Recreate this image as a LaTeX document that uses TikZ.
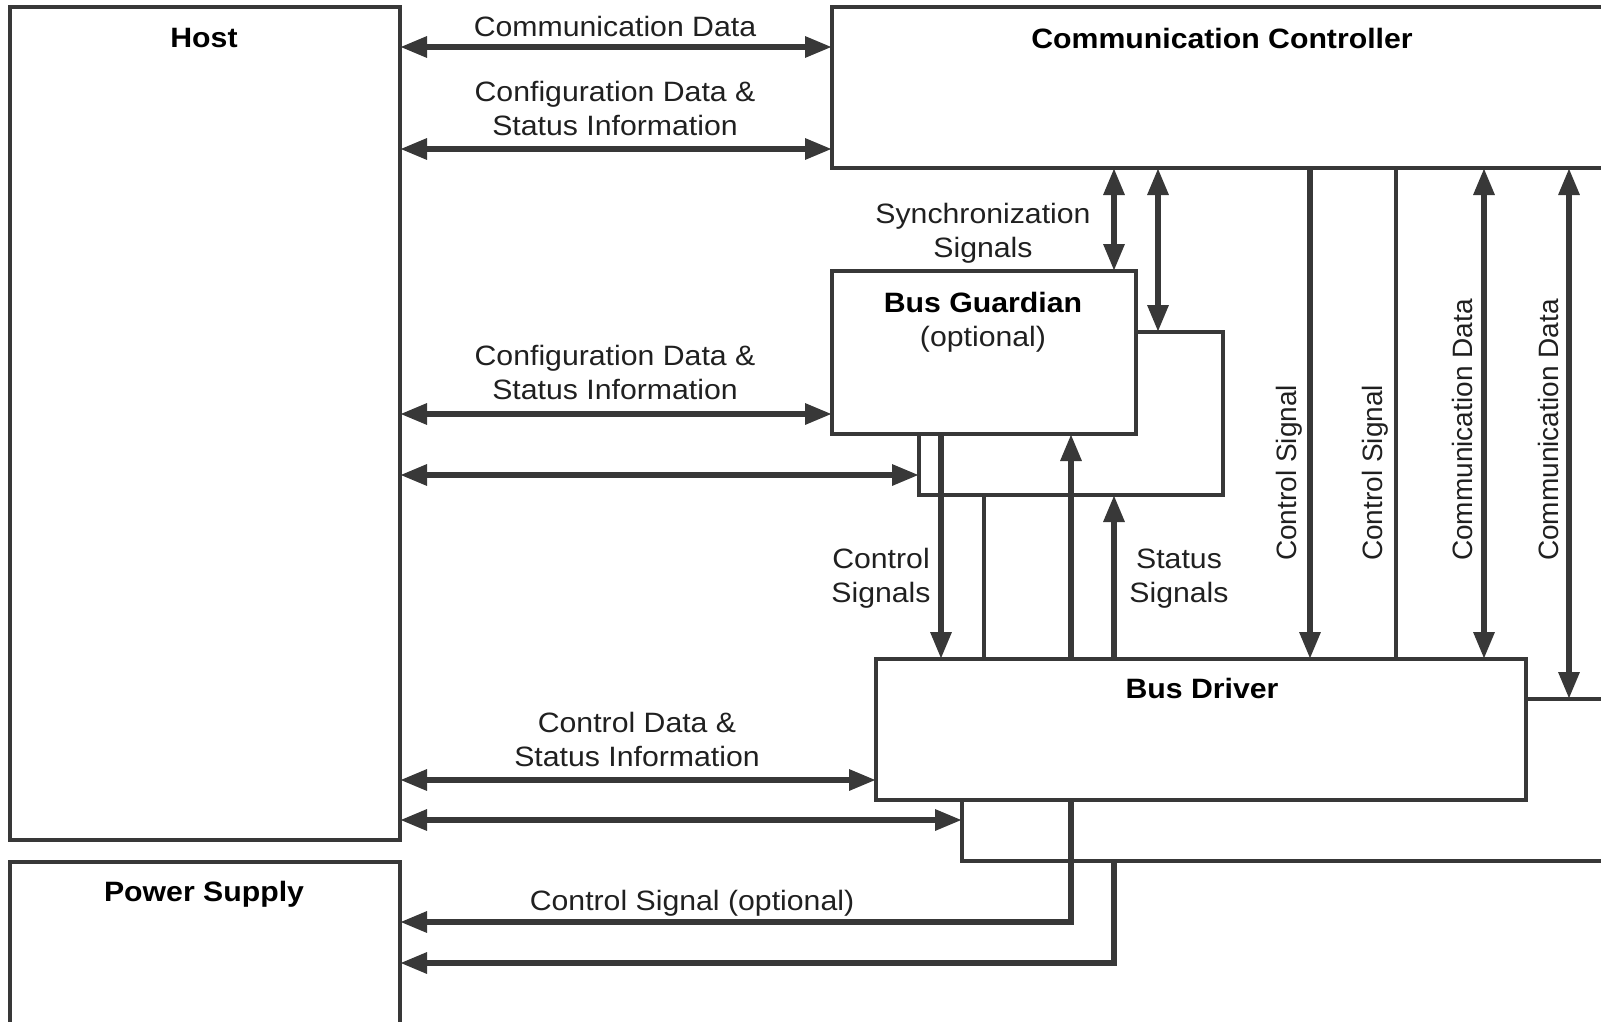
\documentclass[tikz,border=0pt]{standalone}
\usepackage{fontspec}
\setmainfont{Liberation Sans}
\newfontfamily\widefont{Liberation Sans}[FakeStretch=1.08]
\usetikzlibrary{arrows.meta}

\definecolor{linegray}{HTML}{383838}
\definecolor{textgray}{HTML}{202020}

\tikzset{
  box/.style={draw=linegray, line width=4pt, fill=white, inner sep=0pt,
    outer sep=0pt, anchor=north west},
  title/.style={font=\widefont\fontsize{28}{34}\selectfont\bfseries,
    text=black, inner sep=0pt},
  lbl/.style={font=\widefont\fontsize{28}{34}\selectfont, text=textgray,
    align=center, inner sep=0pt},
  vlbl/.style={font=\fontsize{28}{34}\selectfont, text=textgray,
    inner sep=0pt, rotate=90, anchor=west},
  conn/.style={draw=linegray, line width=6pt},
  wire/.style={draw=linegray, line width=4.5pt},
  tip/.tip={Triangle[length=27pt, width=20pt]},
  dblarrow/.style={conn, tip-tip},
  toarrow/.style={conn, -tip},
}

\begin{document}
\begin{tikzpicture}[x=1pt, y=-1pt]
  \useasboundingbox (0,0) rectangle (1601,1022);
  \clip (0,0) rectangle (1601,1022);

  % blocks
  \node[box, minimum width=390pt, minimum height=833pt] (host) at (10,7) {};
  \node[box, minimum width=390pt, minimum height=200pt] (psu) at (10,862) {};
  \node[box, minimum width=820pt, minimum height=161pt] (cc) at (832,7) {};
  % guardian pair (rear one first)
  \node[box, minimum width=304pt, minimum height=163pt] (bgB) at (919,332) {};
  \node[box, minimum width=304pt, minimum height=163pt] (bg) at (832,271) {};
  % driver pair (rear one first)
  \node[box, minimum width=700pt, minimum height=162pt] (bdB) at (962,699) {};
  \node[box, minimum width=650pt, minimum height=141pt] (bd) at (876,659) {};

  % block titles
  \node[title] (hostT) at (204,38) {Host};
  \node[title] (psuT) at (204,894) {Power Supply};
  \node[title] (ccT) at (1222,38) {Communication Controller};
  \node[title] (bgT) at (983,302) {Bus Guardian};
  \node[lbl] (bgO) at (983,339) {(optional)};
  \node[title] (bdT) at (1202,688) {Bus Driver};

  % host links
  \draw[dblarrow] (host.east |- 0,47) -- (cc.west |- 0,47);
  \draw[dblarrow] (host.east |- 0,149) -- (cc.west |- 0,149);
  \draw[dblarrow] (host.east |- 0,414) -- (bg.west |- 0,414);
  \draw[dblarrow] (host.east |- 0,475) -- (bgB.west |- 0,475);
  \draw[dblarrow] (host.east |- 0,780) -- (bd.west |- 0,780);
  \draw[dblarrow] (host.east |- 0,820) -- (bdB.west |- 0,820);
  \node[lbl] (lCom) at (615,26) {Communication Data};
  \node[lbl] (lCfgA) at (615,108) {Configuration Data \&\\Status Information};
  \node[lbl] (lCfgB) at (615,372) {Configuration Data \&\\Status Information};
  \node[lbl] (lCtl) at (637,739) {Control Data \&\\Status Information};

  % power supply links
  \draw[toarrow] (bd.south -| 1071,0) |- (psu.east |- 0,922);
  \draw[toarrow] (bdB.south -| 1114,0) |- (psu.east |- 0,963);
  \node[lbl] (lPsu) at (692,903) {Control Signal (optional)};

  % controller to guardian
  \draw[dblarrow] (cc.south -| 1114,0) -- (bg.north -| 1114,0);
  \draw[dblarrow] (cc.south -| 1158,0) -- (bgB.north -| 1158,0);
  \node[lbl] (lSync) at (983,233) {Synchronization\\Signals};

  % guardian to driver
  \draw[toarrow] (bg.south -| 941,0) -- (bd.north -| 941,0);
  \draw[wire] (bgB.south -| 984,0) -- (bd.north -| 984,0);
  \draw[toarrow] (bd.north -| 1071,0) -- (bg.south -| 1071,0);
  \draw[toarrow] (bd.north -| 1114,0) -- (bgB.south -| 1114,0);
  \node[lbl] (lCtlS) at (881,578) {Control\\Signals};
  \node[lbl] (lStat) at (1179,579) {Status\\Signals};

  % controller to driver
  \draw[toarrow] (cc.south -| 1310,0) -- (bd.north -| 1310,0);
  \draw[wire] (cc.south -| 1396,0) -- (bd.north -| 1396,0);
  \draw[dblarrow] (cc.south -| 1484,0) -- (bd.north -| 1484,0);
  \draw[dblarrow] (cc.south -| 1569,0) -- (bdB.north -| 1569,0);
  \node[vlbl] (vCtlA) at (1289,561) {Control Signal};
  \node[vlbl] (vCtlB) at (1375,561) {Control Signal};
  \node[vlbl] (vComA) at (1462,561) {Communication Data};
  \node[vlbl] (vComB) at (1548,561) {Communication Data};
\end{tikzpicture}
\end{document}
